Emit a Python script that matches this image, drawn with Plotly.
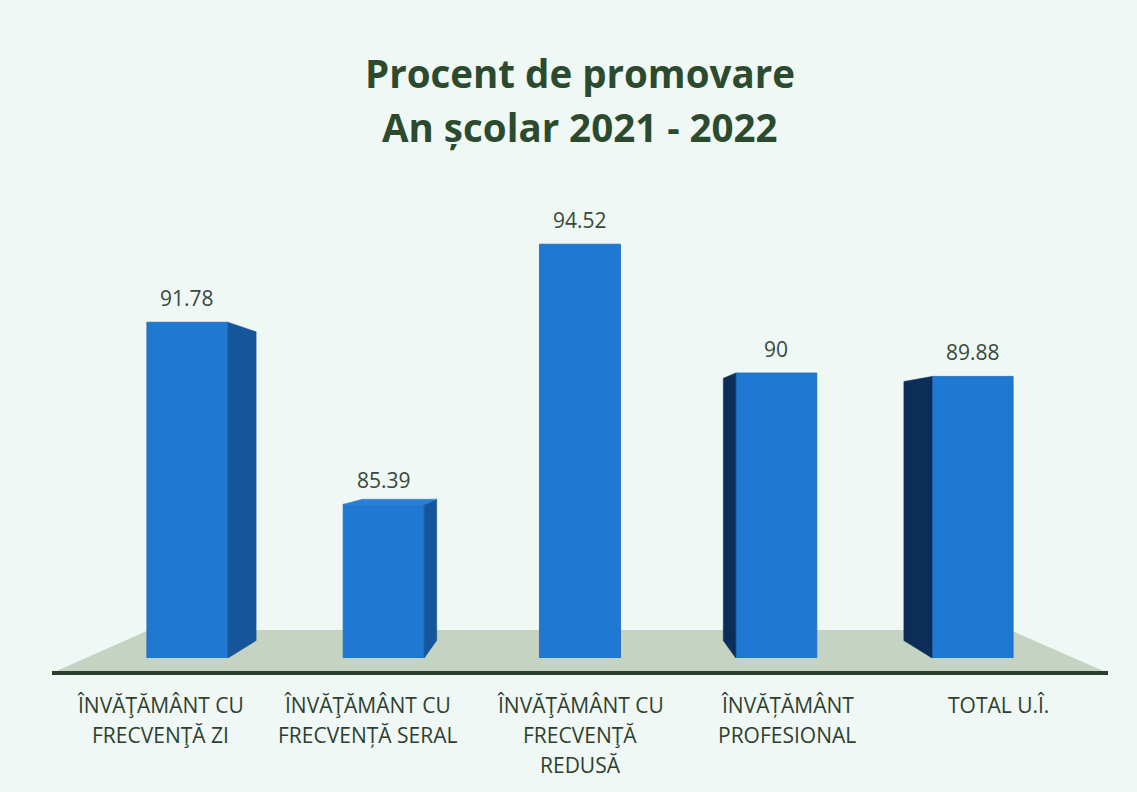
import plotly.graph_objects as go

# ---- data ----
categories = [
    "ÎNVĂŢĂMÂNT CU<br>FRECVENŢĂ ZI",
    "ÎNVĂŢĂMÂNT CU<br>FRECVENȚĂ SERAL",
    "ÎNVĂŢĂMÂNT CU<br>FRECVENŢĂ<br>REDUSĂ",
    "ÎNVĂȚĂMÂNT<br>PROFESIONAL",
    "TOTAL U.Î.",
]
values = [91.78, 85.39, 94.52, 90, 89.88]
value_labels = ["91.78", "85.39", "94.52", "90", "89.88"]
title_lines = ["Procent de promovare", "An școlar 2021 - 2022"]

# ---- style / geometry ----
FRONT = "#1f78d1"
RIGHT_SIDE = "#16559a"
LEFT_SIDE = "#0c2d57"
TOP_FACE = "#2a7fd3"
BG = "#eff8f4"
TXT = "#2f3f2f"
BAR_W = 0.413
BASE = 80
VP = (2.0, 87.65)   # vanishing point (data units) for the pseudo-3D faces
DEPTH = 0.08
label_xshift = [-27, -16, 0, 11, 26]

x_pos = list(range(len(values)))

fig = go.Figure()


def back(x, y):
    return x + DEPTH * (VP[0] - x), y + DEPTH * (VP[1] - y)


# side / top faces derived from the values
for i, v in zip(x_pos, values):
    xl, xr = i - BAR_W / 2, i + BAR_W / 2
    polys = []
    if xr < VP[0]:
        bx_t, by_t = back(xr, v)
        bx_b, by_b = back(xr, BASE)
        polys.append(([xr, xr, bx_t, bx_b, xr], [BASE, v, by_t, by_b, BASE], RIGHT_SIDE))
    if xl > VP[0]:
        bx_t, by_t = back(xl, v)
        bx_b, by_b = back(xl, BASE)
        polys.append(([xl, xl, bx_t, bx_b, xl], [BASE, v, by_t, by_b, BASE], LEFT_SIDE))
    if v < VP[1]:
        b1 = back(xl, v)
        b2 = back(xr, v)
        polys.append(([xl, xr, b2[0], b1[0], xl], [v, v, b2[1], b1[1], v], TOP_FACE))
    for px, py, col in polys:
        fig.add_trace(go.Scatter(x=px, y=py, mode="lines", fill="toself",
                                 fillcolor=col, line=dict(color=col, width=0.5),
                                 hoverinfo="skip", showlegend=False))

fig.add_trace(go.Bar(
    x=x_pos, y=values, width=BAR_W,
    marker=dict(color=FRONT, line=dict(color="#1a68b8", width=0.8)),
    showlegend=False, hovertemplate="%{y}<extra></extra>",
))

annotations = []
for i, v, t in zip(x_pos, values, value_labels):
    annotations.append(dict(x=i, y=v, xref="x", yref="y", text=t, showarrow=False,
                            yanchor="middle", yshift=24,
                            font=dict(family="Open Sans", size=21, color="#3a483a")))

for i, cat in enumerate(categories):
    for j, line in enumerate(cat.split("<br>")):
        annotations.append(dict(x=i, y=0, xref="x", yref="paper", text=line,
                                showarrow=False, yanchor="middle",
                                xshift=label_xshift[i], yshift=-47 - 30 * j,
                                font=dict(family="Open Sans", size=21, color=TXT)))

# title lines
for ty, line in zip([1.026, 0.9316], title_lines):
    annotations.append(dict(x=0.5, y=ty, xref="paper", yref="paper", text="<b>%s</b>" % line,
                            showarrow=False, yanchor="middle",
                            font=dict(family="Open Sans", size=38.5, color="#2c4b2e")))

# floor (decoration) in paper coordinates
floor_path = "M 0,-0.0263 L 1,-0.0263 L 0.907,0.0491 L 0.0919,0.0491 Z"
shapes = [
    dict(type="path", path=floor_path, xref="paper", yref="paper",
         fillcolor="#c4d3c2", line=dict(width=0), layer="below"),
    dict(type="line", x0=0, x1=1, y0=-0.0263, y1=-0.0263, xref="paper", yref="paper",
         line=dict(color="#2c3d2a", width=4), layer="below"),
]

fig.update_layout(
    width=1137, height=792,
    margin=dict(l=52, r=29, t=88, b=134),
    paper_bgcolor=BG, plot_bgcolor="rgba(0,0,0,0)",
    xaxis=dict(range=[-0.69, 4.69], visible=False, fixedrange=True),
    yaxis=dict(range=[BASE, 100], visible=False, fixedrange=True),
    annotations=annotations, shapes=shapes,
    bargap=0.5, showlegend=False,
)

fig.write_html("out.html", config={"displayModeBar": False},
               post_script="document.body.style.margin='0';document.body.style.overflow='hidden';")
